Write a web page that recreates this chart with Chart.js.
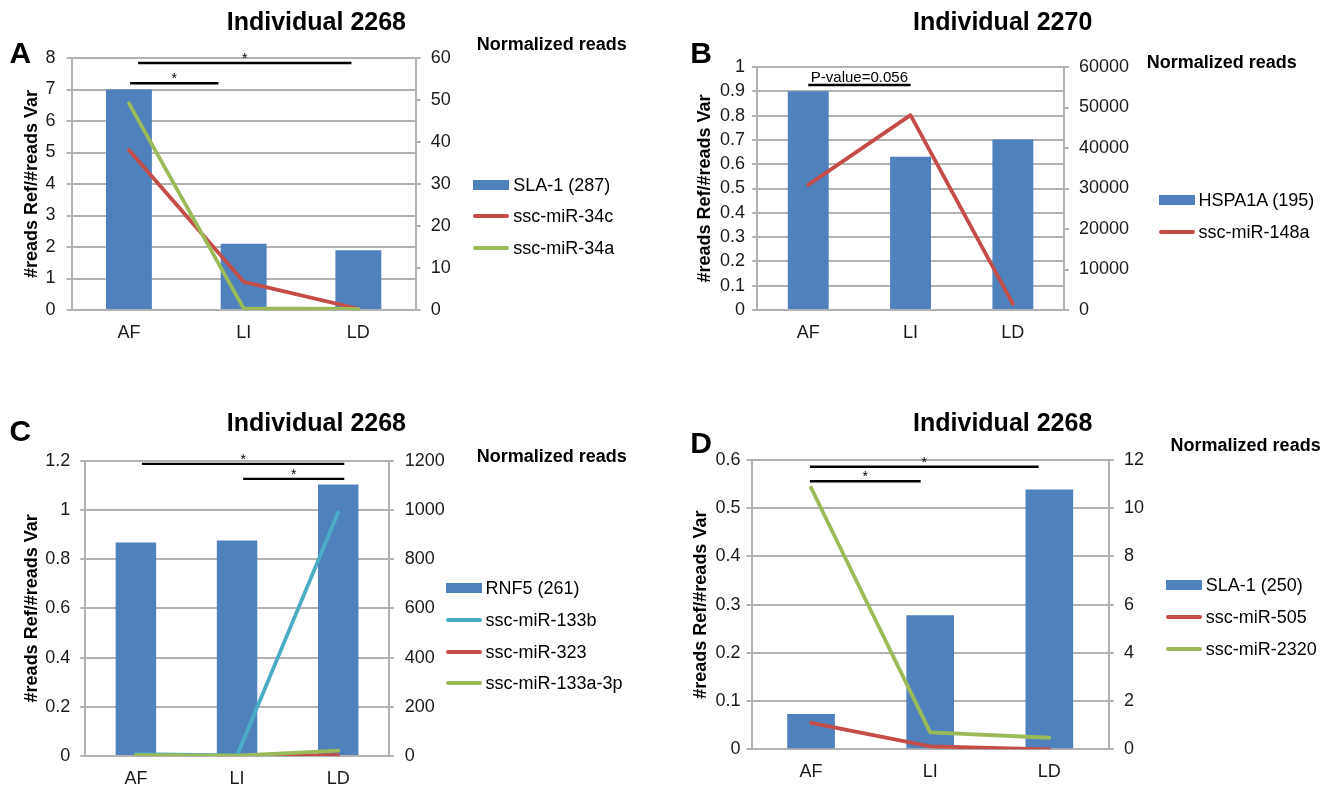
<!DOCTYPE html>
<html>
<head>
<meta charset="utf-8">
<script src="https://cdn.jsdelivr.net/npm/chart.js@4.4.1/dist/chart.umd.min.js"></script>
<style>
  body { margin: 0; background: #fff; }
  #fig {
    position: relative; width: 1328px; height: 788px; overflow: hidden;
    font-family: "Liberation Sans", Arial, sans-serif; color: #000;
  }
  .panel { position: absolute; width: 664px; height: 394px; }
  .panel canvas { position: absolute; left: 0; top: 0; }
  .txt { position: absolute; white-space: nowrap; line-height: 1; }
  .item { position: absolute; display: flex; align-items: center; white-space: nowrap; font-size: 18px; line-height: 1; height: 18px; }
  .sw { display: inline-block; width: 36px; margin-right: 4px; }
</style>
</head>
<body>
<div id="fig"></div>
<script>
// Общие данные
const categories = ["AF", "LI", "LD"];
const yTitle = "#reads Ref/#reads Var";
const rightTitle = "Normalized reads";

// Панель A
const aSla1 = [7, 2.1, 1.9];
const aMir34c = [38.1, 6.7, 0.3];
const aMir34a = [49.2, 0.4, 0.25];

// Панель B
const bHspa1a = [0.9, 0.631, 0.702];
const bMir148a = [30900, 48100, 1500];

// Панель C
const cRnf5 = [0.868, 0.876, 1.103];
const cMir133b = [8, 2, 990];
const cMir323 = [0, 0, 3];
const cMir133a = [3, 1, 22];

// Панель D
const dSla1 = [0.073, 0.278, 0.539];
const dMir505 = [1.1, 0.12, 0];
const dMir2320 = [10.85, 0.7, 0.48];

// Цвета в стиле Excel
const BLUE = "#4f81bd";
const RED = "#c44d48";
const GREEN = "#9bbb59";
const CYAN = "#4bacc6";
const GRID = "#b2b2b2";

Chart.defaults.font.family = '"Liberation Sans", Arial, sans-serif';
Chart.defaults.color = "#1a1a1a";

const panels = [
  {
    letter: "A", title: "Individual 2268", left: 0, top: 0,
    plot: { left: 71.6, top: 58, right: 415.7, bottom: 310 },
    yMax: 8, yStep: 1, y1Max: 60, y1Step: 10,
    leftPad: 11, rightPad: 10, titlePad: 21.2,
    titlePos: [316.4, 30], letterPos: [9.4, 63], normPos: [476.7, 50],
    legendPos: [473.3, 184.5], legendGap: 31.6,
    series: [
      { label: "SLA-1 (287)", data: aSla1, bar: true, color: BLUE },
      { label: "ssc-miR-34c", data: aMir34c, color: RED },
      { label: "ssc-miR-34a", data: aMir34a, color: GREEN },
    ],
    marks: [
      { from: 0.08, to: 1.94, y: 7.84, label: "*" },
      { from: 0.01, to: 0.78, y: 7.2, label: "*" },
    ],
  },
  {
    letter: "B", title: "Individual 2270", left: 664, top: 0,
    plot: { left: 93.1, top: 67, right: 400, bottom: 310 },
    yMax: 1, yStep: 0.1, y1Max: 60000, y1Step: 10000,
    leftPad: 7, rightPad: 10, titlePad: 30.5,
    titlePos: [338.7, 30], letterPos: [26.2, 63], normPos: [482.8, 68],
    legendPos: [494.5, 200], legendGap: 31.7,
    series: [
      { label: "HSPA1A (195)", data: bHspa1a, bar: true, color: BLUE },
      { label: "ssc-miR-148a", data: bMir148a, color: RED },
    ],
    marks: [
      { from: 0.0, to: 1.0, y: 0.926, label: "P-value=0.056" },
    ],
  },
  {
    letter: "C", title: "Individual 2268", left: 0, top: 394,
    plot: { left: 85.3, top: 66.7, right: 388.8, bottom: 362 },
    yMax: 1.2, yStep: 0.2, y1Max: 1200, y1Step: 200,
    leftPad: 10, rightPad: 11, titlePad: 21.2,
    titlePos: [316.4, 37.7], letterPos: [9.4, 47.7], normPos: [476.7, 68],
    legendPos: [445.5, 193.7], legendGap: 31.9,
    series: [
      { label: "RNF5 (261)", data: cRnf5, bar: true, color: BLUE },
      { label: "ssc-miR-133b", data: cMir133b, color: CYAN },
      { label: "ssc-miR-323", data: cMir323, color: RED },
      { label: "ssc-miR-133a-3p", data: cMir133a, color: GREEN },
    ],
    marks: [
      { from: 0.06, to: 2.06, y: 1.187, label: "*" },
      { from: 1.06, to: 2.06, y: 1.126, label: "*" },
    ],
  },
  {
    letter: "D", title: "Individual 2268", left: 664, top: 394,
    plot: { left: 87.5, top: 66, right: 444.9, bottom: 355.3 },
    yMax: 0.6, yStep: 0.1, y1Max: 12, y1Step: 2,
    leftPad: 6, rightPad: 10, titlePad: 26.2,
    titlePos: [338.7, 37.7], letterPos: [26.2, 59.5], normPos: [506.6, 57],
    legendPos: [501.8, 191], legendGap: 32,
    series: [
      { label: "SLA-1 (250)", data: dSla1, bar: true, color: BLUE },
      { label: "ssc-miR-505", data: dMir505, color: RED },
      { label: "ssc-miR-2320", data: dMir2320, color: GREEN },
    ],
    marks: [
      { from: -0.01, to: 1.91, y: 0.586, label: "*" },
      { from: -0.01, to: 0.92, y: 0.556, label: "*" },
    ],
  },
];

// Плагин: линии значимости со звёздочками
const sigPlugin = {
  id: "sig",
  afterDatasetsDraw(chart, args, opts) {
    const { ctx } = chart;
    const x = chart.scales.x;
    const y = chart.scales.y;
    ctx.save();
    ctx.strokeStyle = "#000";
    ctx.fillStyle = "#000";
    ctx.lineWidth = 2.4;
    ctx.textAlign = "center";
    ctx.textBaseline = "alphabetic";
    (opts.marks || []).forEach((m) => {
      const x0 = x.getPixelForValue(m.from);
      const x1 = x.getPixelForValue(m.to);
      const yy = y.getPixelForValue(m.y);
      ctx.beginPath();
      ctx.moveTo(x0, yy);
      ctx.lineTo(x1, yy);
      ctx.stroke();
      if (m.label === "*") {
        ctx.font = '14px "Liberation Sans", Arial, sans-serif';
        ctx.fillText(m.label, (x0 + x1) / 2, yy);
      } else {
        ctx.font = '15px "Liberation Sans", Arial, sans-serif';
        ctx.fillText(m.label, (x0 + x1) / 2, yy - 3.3);
      }
    });
    ctx.restore();
  },
};

const fmt = (v) => String(+Number(v).toFixed(3));

function addText(parent, text, x, baseline, size, bold, center) {
  const el = document.createElement("div");
  el.className = "txt";
  el.textContent = text;
  el.style.fontSize = size + "px";
  el.style.fontWeight = bold ? "bold" : "normal";
  el.style.top = baseline - 0.85 * size + "px";
  el.style.left = x + "px";
  if (center) el.style.transform = "translateX(-50%)";
  parent.appendChild(el);
}

function makePanel(p) {
  const W = 664, H = 394;
  const wrap = document.createElement("div");
  wrap.className = "panel";
  wrap.style.left = p.left + "px";
  wrap.style.top = p.top + "px";
  document.getElementById("fig").appendChild(wrap);

  const canvas = document.createElement("canvas");
  canvas.width = W;
  canvas.height = H;
  wrap.appendChild(canvas);

  const n = p.series.length;
  const datasets = p.series.map((s, i) =>
    s.bar
      ? { type: "bar", label: s.label, data: s.data, backgroundColor: s.color,
          borderWidth: 0, barPercentage: 0.4, categoryPercentage: 1, yAxisID: "y", order: 20 }
      : { type: "line", label: s.label, data: s.data, borderColor: s.color, backgroundColor: s.color,
          borderWidth: 3.8, pointRadius: 0, tension: 0, fill: false, yAxisID: "y1", order: n - i,
          borderCapStyle: "round", borderJoinStyle: "round" }
  );

  const tickFont = { size: 18 };

  const chart = new Chart(canvas, {
    type: "bar",
    data: { labels: categories, datasets },
    plugins: [sigPlugin],
    options: {
      responsive: false,
      animation: false,
      layout: { padding: { top: p.plot.top, left: 0, right: 0, bottom: 0 } },
      plugins: {
        legend: { display: false },
        tooltip: { enabled: false },
        sig: { marks: p.marks },
      },
      scales: {
        x: {
          grid: { display: false, drawTicks: false },
          border: { display: true, color: GRID, width: 2 },
          ticks: { font: tickFont, color: "#1a1a1a", padding: 12 },
          afterFit: (s) => { s.height = H - p.plot.bottom; },
        },
        y: {
          position: "left",
          min: 0, max: p.yMax,
          ticks: { stepSize: p.yStep, autoSkip: false, font: tickFont, color: "#1a1a1a",
                   padding: p.leftPad, callback: fmt },
          grid: { color: GRID, lineWidth: 2, tickLength: 5 },
          border: { color: GRID, width: 2 },
          title: { display: true, text: yTitle, font: { size: 18, weight: "bold" }, color: "#000",
                   padding: { top: p.titlePad, bottom: 0 } },
          afterFit: (s) => { s.width = p.plot.left; },
        },
        y1: {
          position: "right",
          min: 0, max: p.y1Max,
          ticks: { stepSize: p.y1Step, autoSkip: false, font: tickFont, color: "#1a1a1a",
                   padding: p.rightPad, callback: fmt },
          grid: { drawOnChartArea: false, color: GRID, lineWidth: 2, tickLength: 5 },
          border: { color: GRID, width: 2 },
          afterFit: (s) => { s.width = W - p.plot.right; },
        },
      },
    },
  });

  // Заголовки и подписи
  addText(wrap, p.title, p.titlePos[0], p.titlePos[1], 25, true, true);
  addText(wrap, p.letter, p.letterPos[0], p.letterPos[1], 30, true, false);
  addText(wrap, rightTitle, p.normPos[0], p.normPos[1], 18, true, false);

  // Легенда из наборов данных графика
  chart.data.datasets.forEach((ds, i) => {
    const item = document.createElement("div");
    item.className = "item";
    item.style.left = p.legendPos[0] + "px";
    item.style.top = p.legendPos[1] + i * p.legendGap - 9 + "px";
    const sw = document.createElement("span");
    sw.className = "sw";
    if (ds.type === "bar") {
      sw.style.height = "10px";
      sw.style.background = ds.backgroundColor;
    } else {
      sw.style.height = "4px";
      sw.style.borderRadius = "2px";
      sw.style.background = ds.borderColor;
    }
    item.appendChild(sw);
    item.appendChild(document.createTextNode(ds.label));
    wrap.appendChild(item);
  });
}

panels.forEach(makePanel);
</script>
</body>
</html>
